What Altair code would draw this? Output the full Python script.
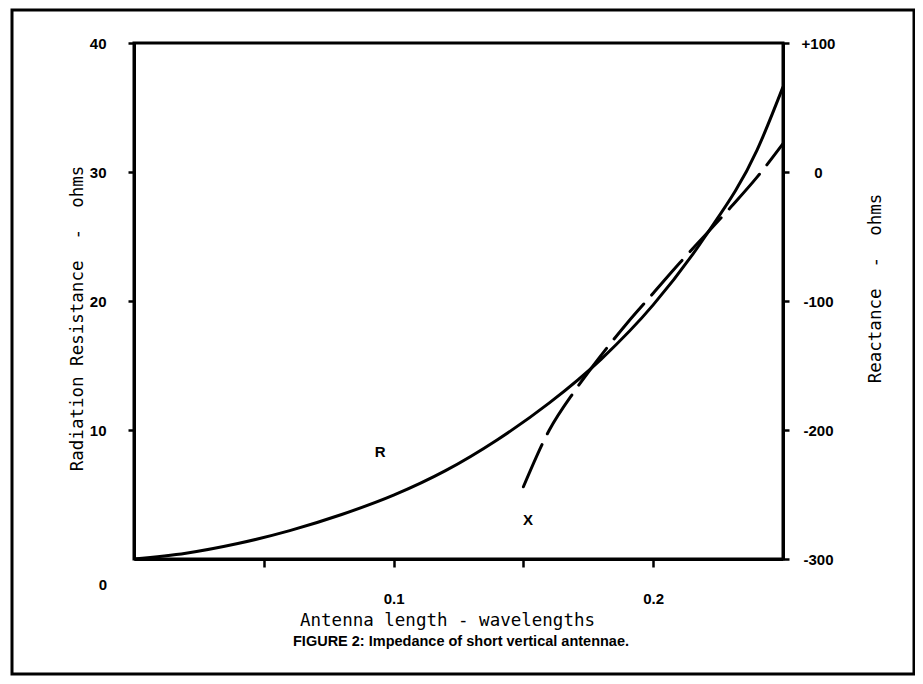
import altair as alt
import pandas as pd

# Radiation resistance curve (solid)
length_r = [0.0, 0.02, 0.04, 0.06, 0.08, 0.10, 0.12, 0.14, 0.16, 0.18, 0.20, 0.22, 0.24, 0.25]
resistance = [0.0, 0.45, 1.2, 2.2, 3.45, 4.95, 6.85, 9.25, 12.1, 15.5, 19.7, 25.0, 31.7, 36.6]

# Reactance curve (dashed)
length_x = [0.15, 0.16, 0.17, 0.18, 0.19, 0.20, 0.21, 0.22, 0.23, 0.24, 0.25]
reactance = [-244, -200, -169, -142, -117, -94, -71, -49, -27, -4, 22]

# curve labels
label_text = ["R", "X"]
label_len = [0.0948, 0.1518]
label_r = [8.3, 3.0]

caption = "FIGURE 2: Impedance of short vertical antennae."

x_ticks = [0.05, 0.1, 0.15, 0.2]
r_ticks = [10, 20, 30, 40]
x_ticks_right = [-300, -200, -100, 0, 100]

MONO = "DejaVu Sans Mono"
SANS = "Liberation Sans"

r_df = pd.DataFrame({"length": length_r, "R": resistance})
x_df = pd.DataFrame({"length": length_x, "X": reactance})
lab_df = pd.DataFrame({"length": label_len, "R": label_r, "text": label_text})
zero_df = pd.DataFrame({"length": [0.0], "R": [0.0], "text": ["0"]})
frame_df = pd.DataFrame({"k": [0]})
cap_df = pd.DataFrame({"text": [caption]})

x_scale = alt.Scale(domain=[0, 0.25], nice=False, zero=False)
x_axis = alt.Axis(
    values=x_ticks,
    labelExpr="datum.value == 0.1 ? '0.1' : (datum.value == 0.2 ? '0.2' : '')",
    title="Antenna length - wavelengths", titleX=313,
    tickSize=8, tickWidth=2.5, labelPadding=24, titlePadding=5,
    grid=False,
)
r_scale = alt.Scale(domain=[0, 40], nice=False, zero=False)
r_axis = alt.Axis(
    values=r_ticks, format="d", orient="left",
    title="Radiation\u00a0Resistance\u00a0\u00a0-\u00a0\u00a0ohms", titleY=275,
    tickSize=6, tickWidth=2.5, labelPadding=22, titlePadding=3, grid=False,
)
xr_scale = alt.Scale(domain=[-300, 100], nice=False, zero=False)
xr_axis = alt.Axis(
    values=x_ticks_right, orient="right",
    labelExpr="datum.value > 0 ? '+' + datum.value : '' + datum.value",
    labelAlign="center", tickSize=6, tickWidth=2.5, labelPadding=29,
    title="Reactance\u00a0\u00a0-\u00a0\u00a0ohms", titleAngle=270, titlePadding=50,
    titleY=245,
    grid=False,
)

r_line = alt.Chart(r_df).mark_line(
    color="black", strokeWidth=3, interpolate="monotone"
).encode(
    x=alt.X("length:Q", scale=x_scale, axis=x_axis),
    y=alt.Y("R:Q", scale=r_scale, axis=r_axis),
)

labels = alt.Chart(lab_df).mark_text(
    font=SANS, fontSize=15, fontWeight="bold", color="black"
).encode(
    x=alt.X("length:Q", scale=x_scale),
    y=alt.Y("R:Q", scale=r_scale),
    text="text:N",
)

zero_label = alt.Chart(zero_df).mark_text(
    font=SANS, fontSize=15, fontWeight="bold", color="black", dx=-31, dy=26
).encode(
    x=alt.X("length:Q", scale=x_scale),
    y=alt.Y("R:Q", scale=r_scale),
    text="text:N",
)

frame = alt.Chart(frame_df).mark_rect(
    filled=False, stroke="black", strokeWidth=3
).encode(
    x=alt.value(-122), x2=alt.value(780), y=alt.value(-33), y2=alt.value(631)
)

cap = alt.Chart(cap_df).mark_text(
    font="Liberation Sans Narrow, Liberation Sans", fontSize=14.5, fontWeight="bold",
    color="black", align="center", baseline="middle"
).encode(
    x=alt.value(327), y=alt.value(599), text="text:N"
)

left_layer = alt.layer(frame, cap, r_line, labels, zero_label)

x_line = alt.Chart(x_df).mark_line(
    color="black", strokeWidth=3, strokeDash=[46, 12], strokeCap="round",
    interpolate="monotone"
).encode(
    x=alt.X("length:Q", scale=x_scale, axis=x_axis),
    y=alt.Y("X:Q", scale=xr_scale, axis=xr_axis),
)

chart = alt.layer(left_layer, x_line).resolve_scale(y="independent").properties(
    width=649, height=516,
    autosize=alt.AutoSizeParams(type="none"),
    padding={"left": 126, "top": 35, "right": 132, "bottom": 117},
    background="white",
).configure_view(
    stroke="black", strokeWidth=3
).configure_axis(
    domainColor="black", domainWidth=3, tickColor="black",
    labelFont=SANS, labelFontSize=15, labelFontWeight="bold", labelColor="black",
    titleFont=MONO, titleFontSize=17.5, titleFontWeight="normal", titleColor="black",
)

chart.save("out.html", embed_options={"renderer": "svg", "actions": False})
